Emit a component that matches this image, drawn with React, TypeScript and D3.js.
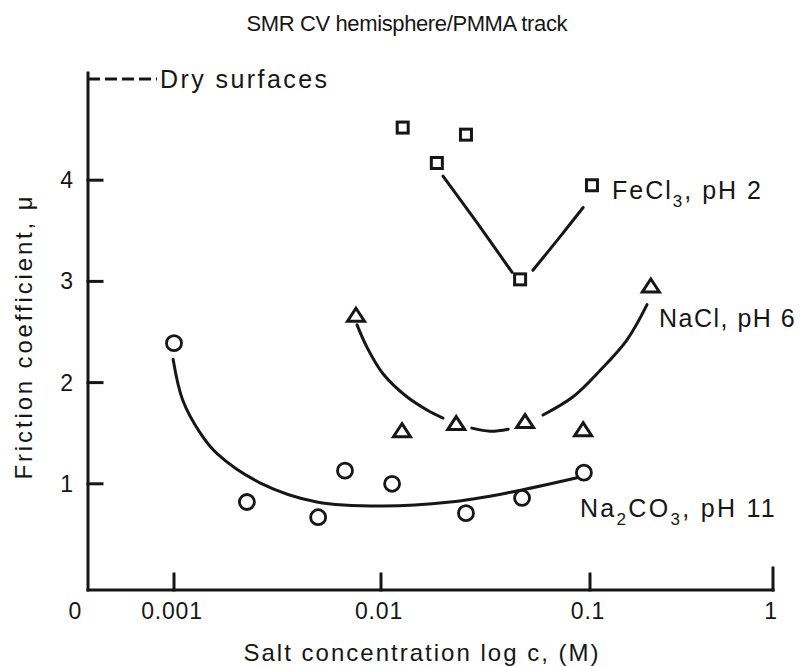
import React from "react";
import * as d3 from "d3";

// ---- data ----
const xTicks = [0.001, 0.01, 0.1, 1];
const xTickLabels = ["0.001", "0.01", "0.1", "1"];
const yTicks = [1, 2, 3, 4];
const dryMu = 5;

const feConc = [0.0127, 0.0185, 0.0255, 0.0463, 0.1025];
const feMu = [4.52, 4.17, 4.45, 3.02, 3.95];

const naclConc = [0.00757, 0.0126, 0.0229, 0.0489, 0.0927, 0.215];
const naclMu = [2.67, 1.53, 1.6, 1.62, 1.54, 2.96];

const carbConc = [0.001, 0.00225, 0.00497, 0.0067, 0.0113, 0.0255, 0.0473, 0.0935];
const carbMu = [2.39, 0.82, 0.67, 1.13, 1.0, 0.71, 0.86, 1.11];

// hand-drawn fit curves (concentration, mu), as segments
const carbFit: [number, number][][] = [
  [
    [0.00099, 2.23], [0.0011, 1.83], [0.00134, 1.5], [0.00161, 1.3], [0.0026, 1.01],
    [0.0049, 0.82], [0.0102, 0.78], [0.0214, 0.82], [0.0401, 0.91], [0.0867, 1.06],
  ],
];
const naclFit: [number, number][][] = [
  [[0.00766, 2.57], [0.00855, 2.35], [0.0102, 2.09], [0.0133, 1.86], [0.0166, 1.73], [0.0198, 1.65]],
  [[0.0272, 1.55], [0.0333, 1.52], [0.0406, 1.54]],
  [[0.0596, 1.68], [0.083, 1.86], [0.1135, 2.12], [0.159, 2.42], [0.205, 2.77]],
];
const feFit: [number, number][][] = [
  [[0.0198, 4.04], [0.0288, 3.58], [0.0424, 3.09]],
  [[0.0533, 3.11], [0.0718, 3.44], [0.0927, 3.73]],
];

const W = 800;
const H = 666;
const INK = "#161616";
const FONT = "'Liberation Sans', Arial, Helvetica, sans-serif";

export default function App() {
  const x = d3.scaleLog().domain([0.001, 0.01, 0.1, 1]).range([174, 381, 590, 773]);
  const y = d3.scaleLinear().domain([0, 5]).range([585, 79]);

  const axisX0 = 88;
  const axisY0 = 590;
  const axisYTop = y(5.06);

  const line = d3
    .line<[number, number]>()
    .x((d) => x(d[0]))
    .y((d) => y(d[1]))
    .curve(d3.curveCatmullRom.alpha(0.5));

  const fits = [...carbFit, ...naclFit, ...feFit];

  const tri = (cx: number, cy: number) => {
    const w = 17, h = 13;
    return `M${cx},${cy - h / 2}L${cx + w / 2},${cy + h / 2}L${cx - w / 2},${cy + h / 2}Z`;
  };

  return (
    <svg
      width={W}
      height={H}
      style={{ position: "absolute", left: 0, top: 0, background: "#fff" }}
      fontFamily={FONT}
    >
      <rect width={W} height={H} fill="#fff" />
      {/* title */}
      <text x={407} y={31} fontSize={22} textAnchor="middle" fill={INK} textLength={321} lengthAdjust="spacing">
        SMR CV hemisphere/PMMA track
      </text>

      {/* axes */}
      <g stroke={INK} strokeWidth={3} fill="none" strokeLinecap="square">
        <line x1={axisX0} y1={axisYTop} x2={axisX0} y2={axisY0} />
        <line x1={axisX0} y1={axisY0} x2={x(1)} y2={axisY0} />
        {yTicks.map((t) => (
          <line key={"yt" + t} x1={axisX0} x2={axisX0 + 14} y1={y(t)} y2={y(t)} />
        ))}
        {xTicks.map((t, i) => (
          <line
            key={"xt" + t}
            x1={x(t)}
            x2={x(t)}
            y1={axisY0}
            y2={axisY0 - (i === xTicks.length - 1 ? 22 : 16)}
          />
        ))}
      </g>
      {/* dry surfaces */}
      <line
        x1={axisX0}
        x2={157}
        y1={y(dryMu)}
        y2={y(dryMu)}
        stroke={INK}
        strokeWidth={3}
        strokeDasharray="12,5"
      />
      <text x={160} y={y(dryMu) + 9} fontSize={25} fill={INK} textLength={167} lengthAdjust="spacing">
        Dry surfaces
      </text>

      {/* tick labels */}
      {yTicks.map((t) => (
        <text key={"yl" + t} x={73} y={y(t) + 8} fontSize={23} textAnchor="end" fill={INK}>
          {t}
        </text>
      ))}
      <text x={75} y={619} fontSize={23} textAnchor="middle" fill={INK}>
        0
      </text>
      {xTicks.map((t, i) => (
        <text key={"xl" + t} x={x(t) - 2} y={619} fontSize={23} textAnchor="middle" fill={INK} letterSpacing={0.8}>
          {xTickLabels[i]}
        </text>
      ))}

      {/* axis titles */}
      <text x={421} y={661} fontSize={24} textAnchor="middle" fill={INK} textLength={355} lengthAdjust="spacing">
        Salt concentration log c, (M)
      </text>
      <text
        transform="translate(32,338) rotate(-90)"
        fontSize={24}
        textAnchor="middle"
        fill={INK}
        textLength={283}
        lengthAdjust="spacing"
      >
        Friction coefficient, μ
      </text>

      {/* fit curves */}
      <g stroke={INK} strokeWidth={3} fill="none" strokeLinecap="round">
        {fits.map((seg, i) => (
          <path key={"f" + i} d={line(seg) || ""} />
        ))}
      </g>

      {/* markers */}
      <g stroke={INK} strokeWidth={3} fill="#fff">
        {feConc.map((c, i) => (
          <rect key={"s" + i} x={x(c) - 5.5} y={y(feMu[i]) - 5.5} width={11} height={11} />
        ))}
        {naclConc.map((c, i) => (
          <path key={"t" + i} d={tri(x(c), y(naclMu[i]))} strokeLinejoin="miter" />
        ))}
        {carbConc.map((c, i) => (
          <circle key={"c" + i} cx={x(c)} cy={y(carbMu[i])} r={7.5} strokeWidth={2.8} />
        ))}
      </g>

      {/* series labels */}
      <text x={612} y={199} fontSize={25} fill={INK} letterSpacing={2}>
        FeCl
        <tspan fontSize={17} dy={8}>3</tspan>
        <tspan dy={-8}>, pH 2</tspan>
      </text>
      <text x={659} y={327} fontSize={25} fill={INK} letterSpacing={1.5}>
        NaCl, pH 6
      </text>
      <text x={580} y={517} fontSize={25} fill={INK} letterSpacing={2.3}>
        Na
        <tspan fontSize={17} dy={8}>2</tspan>
        <tspan dy={-8}>CO</tspan>
        <tspan fontSize={17} dy={8}>3</tspan>
        <tspan dy={-8}>, pH 11</tspan>
      </text>
    </svg>
  );
}
